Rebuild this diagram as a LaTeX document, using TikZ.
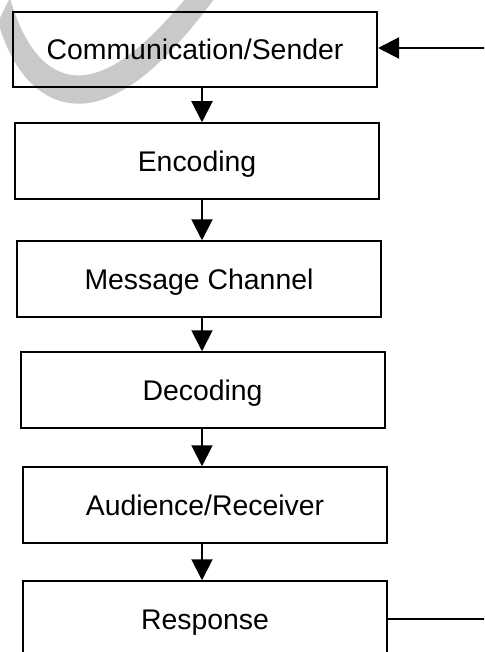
\documentclass[tikz,border=0pt]{standalone}
\usepackage{fontspec}
\setmainfont{Liberation Sans}
\usetikzlibrary{arrows.meta}
\definecolor{wmgrey}{HTML}{C9C9C9}
\tikzset{
  stage/.style={draw, line width=2pt, minimum width=364pt, minimum height=75.5pt,
    inner sep=0pt, text height=20.3pt, text depth=0pt,
    font=\fontsize{28.4}{34}\selectfont},
  flow/.style={line width=2pt, -{Triangle[length=21pt,width=21pt]}},
  plain/.style={line width=2pt}
}
\begin{document}
\begin{tikzpicture}[x=1pt,y=-1pt]
  \clip (0,0) rectangle (484,652);
  \fill[white] (0,0) rectangle (484,652);
  % grey curved stroke in the upper left corner
  \fill[wmgrey] (-2,22) .. controls (18,90) and (58,112) .. (98,101)
     .. controls (142,88) and (182,42) .. (215,-2)
     -- (186,-2) .. controls (154,36) and (112,80) .. (72,75)
     .. controls (42,71) and (22,40) .. (10,-2) -- cycle;
  % the six stages
  \node[stage] (b1) at (195,49.5) {Communication/Sender};
  \node[stage] (b2) at (197,161) {Encoding};
  \node[stage] (b3) at (199,279) {Message Channel};
  \node[stage] (b4) at (202.5,390) {Decoding};
  \node[stage] (b5) at (205,505) {Audience/Receiver};
  \node[stage] (b6) at (205,619) {Response};
  % vertical axis of the downward arrows
  \coordinate (ax) at (202,0);
  \draw[flow] (b1.south -| ax) -- (b2.north -| ax);
  \draw[flow] (b2.south -| ax) -- (b3.north -| ax);
  \draw[flow] (b3.south -| ax) -- (b4.north -| ax);
  \draw[flow] (b4.south -| ax) -- (b5.north -| ax);
  \draw[flow] (b5.south -| ax) -- (b6.north -| ax);
  % feedback loop ends leaving the right edge
  \coordinate (fbin) at (486,48);
  \coordinate (fbout) at (486,619);
  \draw[flow] (fbin) -- (b1.east |- fbin);
  \draw[plain] (b6.east) -- (fbout);
\end{tikzpicture}
\end{document}
